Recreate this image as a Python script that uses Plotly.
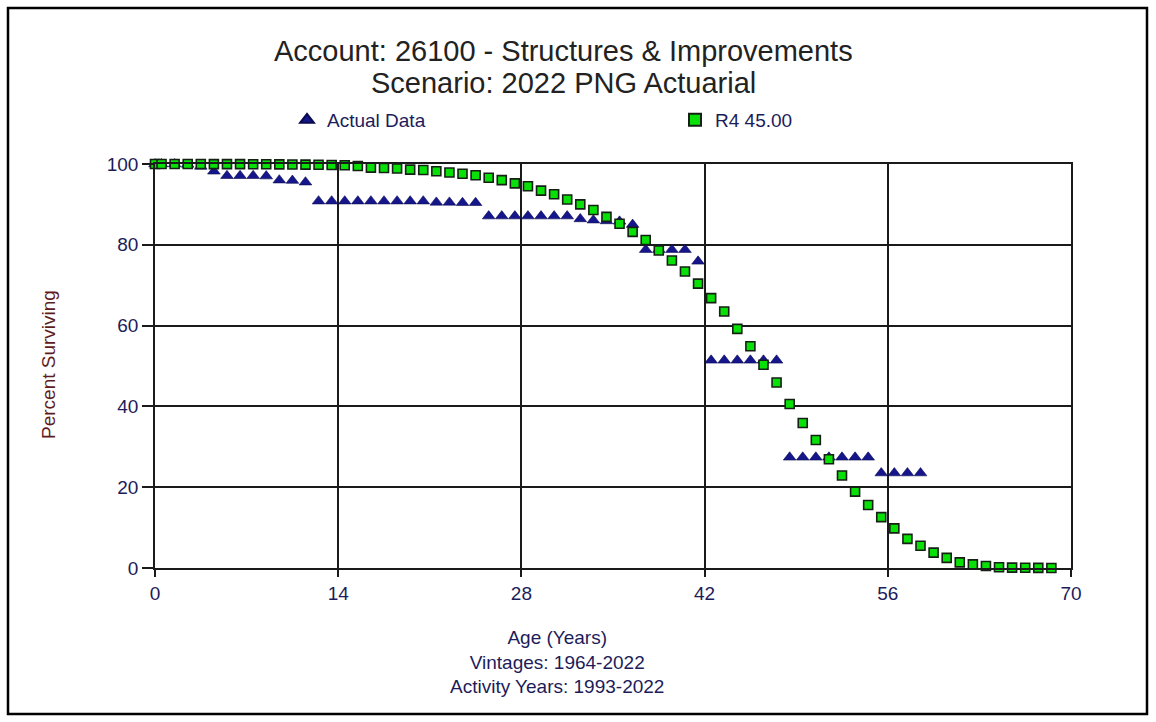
import plotly.graph_objects as go

# ---------------- data ----------------
actual_age = [0, 0.5, 1.5, 2.5, 3.5, 4.5, 5.5, 6.5, 7.5, 8.5, 9.5, 10.5, 11.5,
              12.5, 13.5, 14.5, 15.5, 16.5, 17.5, 18.5, 19.5, 20.5,
              21.5, 22.5, 23.5, 24.5,
              25.5, 26.5, 27.5, 28.5, 29.5, 30.5, 31.5,
              32.5, 33.5, 34.5, 35.5, 36.5,
              37.5, 38.5, 39.5, 40.5, 41.5,
              42.5, 43.5, 44.5, 45.5, 46.5, 47.5,
              48.5, 49.5, 50.5, 51.5, 52.5, 53.5, 54.5,
              55.5, 56.5, 57.5, 58.5]
actual_pct = [100, 100, 100, 99.9, 99.4, 98.2, 97.1, 97.1, 97.1, 97.0, 96.0, 95.9, 95.5,
              90.8, 90.8, 90.8, 90.8, 90.8, 90.8, 90.8, 90.8, 90.8,
              90.5, 90.5, 90.4, 90.4,
              87.1, 87.1, 87.1, 87.1, 87.1, 87.1, 87.1,
              86.4, 86.1, 85.9, 85.8, 85.0,
              78.8, 78.8, 78.8, 78.8, 75.9,
              51.4, 51.4, 51.4, 51.4, 51.4, 51.4,
              27.4, 27.4, 27.4, 27.4, 27.4, 27.4, 27.4,
              23.5, 23.5, 23.5, 23.5]

r4_age = [0, 0.5, 1.5, 2.5, 3.5, 4.5, 5.5, 6.5, 7.5, 8.5, 9.5, 10.5, 11.5, 12.5,
          13.5, 14.5, 15.5, 16.5, 17.5, 18.5, 19.5, 20.5, 21.5, 22.5, 23.5, 24.5,
          25.5, 26.5, 27.5, 28.5, 29.5, 30.5, 31.5, 32.5, 33.5, 34.5, 35.5, 36.5,
          37.5, 38.5, 39.5, 40.5, 41.5, 42.5, 43.5, 44.5, 45.5, 46.5, 47.5, 48.5,
          49.5, 50.5, 51.5, 52.5, 53.5, 54.5, 55.5, 56.5, 57.5, 58.5, 59.5, 60.5,
          61.5, 62.5, 63.5, 64.5, 65.5, 66.5, 67.5, 68.5]
r4_pct = [100, 100, 100, 100, 99.99, 99.98, 99.97, 99.96, 99.94, 99.92, 99.9, 99.87,
          99.84, 99.8, 99.76, 99.7, 99.5, 99.1, 99.0, 98.9, 98.6, 98.5, 98.2, 97.9,
          97.6, 97.2, 96.6, 96.0, 95.2, 94.5, 93.4, 92.5, 91.2, 90.0, 88.6, 86.9,
          85.2, 83.2, 81.2, 78.6, 76.1, 73.4, 70.4, 66.8, 63.5, 59.2, 54.9, 50.3,
          45.9, 40.6, 35.9, 31.7, 26.9, 22.9, 18.9, 15.6, 12.6, 9.8, 7.2, 5.5,
          3.8, 2.5, 1.4, 0.9, 0.5, 0.2, 0.1, 0.05, 0.02, 0.01]

x_ticks = [0, 14, 28, 42, 56, 70]
y_ticks = [0, 20, 40, 60, 80, 100]

title_lines = ["Account: 26100 - Structures & Improvements", "Scenario: 2022 PNG Actuarial"]
x_title_lines = ["Age (Years)", "Vintages: 1964-2022", "Activity Years: 1993-2022"]
y_title = "Percent Surviving"

# ---------------- layout geometry (pixels) ----------------
W, H = 1156, 722
L, R, T, B = 155, 85, 164, 154
PW, PH = W - L - R, H - T - B

def px_x(p):
    return (p - L) / PW

def px_y(p):
    return (H - B - p) / PH

FONT = "Liberation Sans, Arial, sans-serif"
NAVY = "#1c1c5a"

fig = go.Figure()
fig.add_trace(go.Scatter(
    x=actual_age, y=actual_pct, mode="markers", name="Actual Data",
    marker=dict(symbol="triangle-up", size=11, color="#16168c",
                line=dict(width=0.6, color="#0a0a50")),
    cliponaxis=False,
))
fig.add_trace(go.Scatter(
    x=r4_age, y=r4_pct, mode="markers", name="R4 45.00",
    marker=dict(symbol="square", size=9, color="#08e008",
                line=dict(width=1.6, color="#142014")),
    cliponaxis=False,
))

axis_common = dict(
    showgrid=True, gridcolor="#1a1a1a", gridwidth=1.5,
    showline=True, linecolor="#1a1a1a", linewidth=1.5, mirror=True,
    zeroline=False, ticks="outside", tickcolor="#1a1a1a", tickwidth=1.5,
    tickfont=dict(family=FONT, size=19, color=NAVY),
)
fig.update_xaxes(range=[0, 70], tickvals=x_ticks, ticklen=7, **axis_common)
fig.update_yaxes(range=[0, 100], tickvals=y_ticks, ticklen=11, **axis_common)

annotations = [
    dict(text=title_lines[0], x=px_x(563), y=px_y(51), xref="paper", yref="paper",
         showarrow=False, xanchor="center", yanchor="middle",
         font=dict(family=FONT, size=29, color="#222222")),
    dict(text=title_lines[1], x=px_x(563), y=px_y(83), xref="paper", yref="paper",
         showarrow=False, xanchor="center", yanchor="middle",
         font=dict(family=FONT, size=29, color="#222222")),
    dict(text="<br>".join(x_title_lines), x=px_x(557), y=px_y(662), xref="paper", yref="paper",
         showarrow=False, xanchor="center", yanchor="middle",
         font=dict(family=FONT, size=19, color=NAVY)),
    dict(text=y_title, x=px_x(48), y=px_y(365), xref="paper", yref="paper",
         showarrow=False, xanchor="center", yanchor="middle", textangle=-90,
         font=dict(family=FONT, size=19, color="#5e1c1c")),
]

fig.update_layout(
    width=W, height=H,
    margin=dict(l=L, r=R, t=T, b=B),
    paper_bgcolor="white", plot_bgcolor="white",
    showlegend=True,
    legend=dict(orientation="h", x=px_x(287), y=px_y(120), xanchor="left", yanchor="middle",
                entrywidth=343, entrywidthmode="pixels",
                font=dict(family=FONT, size=19, color=NAVY),
                bgcolor="rgba(0,0,0,0)", itemsizing="constant"),
    annotations=annotations,
    shapes=[dict(type="rect", xref="paper", yref="paper",
                 x0=px_x(8), x1=px_x(1147), y0=px_y(714), y1=px_y(8),
                 line=dict(color="black", width=2.5), fillcolor="rgba(0,0,0,0)", layer="below")],
)

fig.write_html("out.html", config={"displayModeBar": False},
               post_script="document.body.style.margin='0';")
